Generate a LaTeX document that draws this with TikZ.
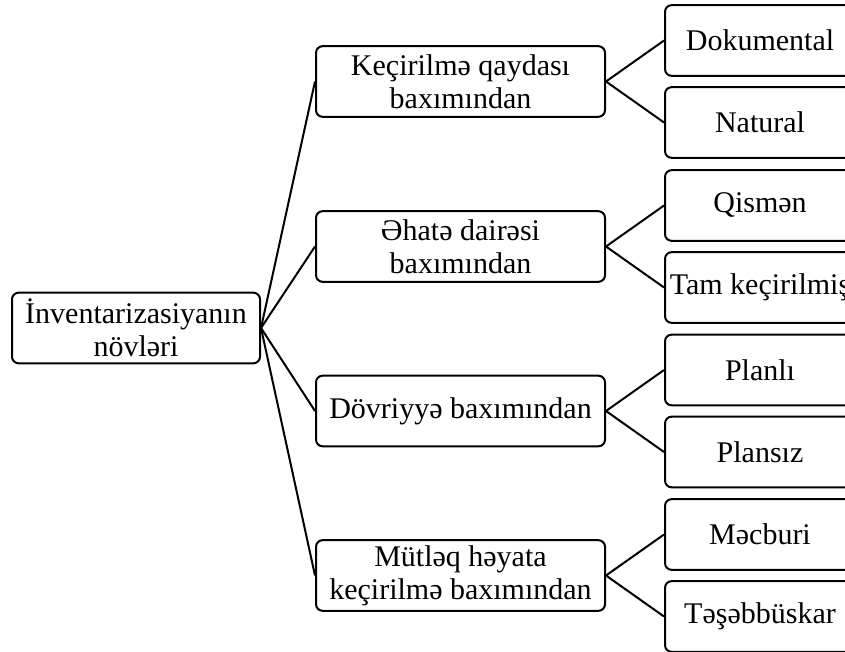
\documentclass[tikz,border=0pt]{standalone}
\usepackage{fontspec}
\setmainfont{Liberation Serif}
\usetikzlibrary{positioning}

\tikzset{
	kind/.style={draw, line width=1.5pt, rounded corners=5pt, align=center,
		minimum width=216.75pt, minimum height=53pt, inner sep=0pt},
	leaf/.style={kind, minimum width=142.5pt},
	link/.style={line width=1.5pt}
}

\begin{document}
\begin{tikzpicture}[x=0.75pt, y=-0.75pt,
		font=\fontsize{22.5}{24.5}\selectfont]
	\useasboundingbox (0,0) rectangle (845,652);
	
	\node[kind, minimum width=186pt] (root) at (136,328) {İnventarizasiyanın\\növləri};
	
	\node[kind] (k1) at (460.5,81.5) {Keçirilmə qaydası\\baxımından};
	\node[kind] (k2) at (460.5,246.5) {Əhatə dairəsi\\baxımından};
	\node[kind] (k3) at (460.5,411) {Dövriyyə baxımından};
	\node[kind] (k4) at (460.5,575.5) {Mütləq həyata\\keçirilmə baxımından};
	
	\node[leaf, right=43.5pt of k1, yshift=30.75pt] (d1) {Dokumental};
	\node[leaf, right=43.5pt of k1, yshift=-30.75pt] (d2) {Natural};
	\node[leaf, right=43.5pt of k2, yshift=30.75pt] (d3) {Qismən};
	\node[leaf, right=43.5pt of k2, yshift=-30.75pt] (d4) {Tam keçirilmiş};
	\node[leaf, right=43.5pt of k3, yshift=30.75pt] (d5) {Planlı};
	\node[leaf, right=43.5pt of k3, yshift=-30.75pt] (d6) {Plansız};
	\node[leaf, right=43.5pt of k4, yshift=30.75pt] (d7) {Məcburi};
	\node[leaf, right=43.5pt of k4, yshift=-30.75pt] (d8) {Təşəbbüskar};
	
	% root to kinds
	\draw[link] (root.east) -- (k1.west);
	\draw[link] (root.east) -- (k2.west);
	\draw[link] (root.east) -- (k3.west);
	\draw[link] (root.east) -- (k4.west);
	
	% kinds to leaves
	\draw[link] (d1.west) -- (k1.east) -- (d2.west);
	\draw[link] (d3.west) -- (k2.east) -- (d4.west);
	\draw[link] (d5.west) -- (k3.east) -- (d6.west);
	\draw[link] (d7.west) -- (k4.east) -- (d8.west);
\end{tikzpicture}
\end{document}
